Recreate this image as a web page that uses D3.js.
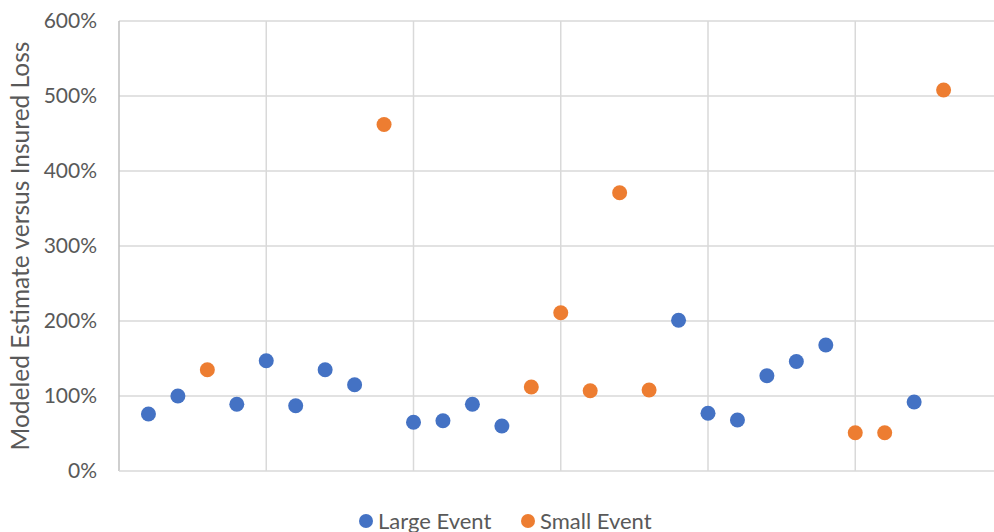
<!DOCTYPE html>
<html>
<head>
<meta charset="utf-8">
<script src="https://cdn.jsdelivr.net/npm/d3@7"></script>
<style>
  html, body { margin: 0; padding: 0; background: #fff; }
  svg { display: block; }
  text { font-family: Lato, "Open Sans", "Liberation Sans", sans-serif; fill: #595959; }
</style>
</head>
<body>
<svg id="chart" width="994" height="532"></svg>
<script>
// Event index along the x axis (1..28)
const eventIndex = [1,2,3,4,5,6,7,8,9,10,11,12,13,14,15,16,17,18,19,20,21,22,23,24,25,26,27,28];
// Modeled estimate divided by insured loss, per event
const ratio = [0.76,1.00,1.35,0.89,1.47,0.87,1.35,1.15,4.62,0.65,0.67,0.89,0.60,1.12,2.11,1.07,3.71,1.08,2.01,0.77,0.68,1.27,1.46,1.68,0.51,0.51,0.92,5.08];
// Event size class for each point
const eventSize = ["Large","Large","Small","Large","Large","Large","Large","Large","Small","Large","Large","Large","Large","Small","Small","Small","Small","Small","Large","Large","Large","Large","Large","Large","Small","Small","Large","Small"];
const seriesNames = ["Large", "Small"];
const seriesLabels = ["Large Event", "Small Event"];
const seriesColors = ["#4472c4", "#ed7d31"];
const yTicks = [0, 1, 2, 3, 4, 5, 6];
const xGridTicks = [5, 10, 15, 20, 25, 30];

const svg = d3.select("#chart");
const plotLeft = 119, plotRight = 1002.5, plotTop = 21, plotBottom = 471;
const fontStack = 'Lato, "Open Sans", "Liberation Sans", sans-serif';

const x = d3.scaleLinear().domain([0, 30]).range([plotLeft, plotRight]);
const y = d3.scaleLinear().domain([0, 6]).range([plotBottom, plotTop]);
const color = d3.scaleOrdinal().domain(seriesNames).range(seriesColors);

// horizontal gridlines
svg.append("g")
  .selectAll("line").data(yTicks.filter(d => d > 0)).join("line")
  .attr("x1", plotLeft).attr("x2", plotRight)
  .attr("y1", d => y(d)).attr("y2", d => y(d))
  .attr("stroke", "#d9d9d9").attr("stroke-width", 1.5);

// vertical gridlines
svg.append("g")
  .selectAll("line").data(xGridTicks).join("line")
  .attr("x1", d => x(d)).attr("x2", d => x(d))
  .attr("y1", plotTop).attr("y2", plotBottom)
  .attr("stroke", "#d9d9d9").attr("stroke-width", 1.5);

// axis lines
svg.append("line").attr("x1", plotLeft).attr("x2", plotLeft).attr("y1", plotTop).attr("y2", plotBottom)
  .attr("stroke", "#bfbfbf").attr("stroke-width", 1.5);
svg.append("line").attr("x1", plotLeft).attr("x2", plotRight).attr("y1", plotBottom).attr("y2", plotBottom)
  .attr("stroke", "#d9d9d9").attr("stroke-width", 1.5);

// y tick labels
const yAxis = d3.axisLeft(y).tickValues(yTicks).tickSize(0).tickPadding(22)
  .tickFormat(d3.format(".0%"));
const gy = svg.append("g").attr("transform", `translate(${plotLeft},0)`).call(yAxis);
gy.select(".domain").remove();
gy.selectAll("text").style("font-size", "21px").attr("fill", "#595959")
  .style("font-family", fontStack);

// y axis title
svg.append("text")
  .attr("transform", `translate(29,${(plotTop + plotBottom) / 2}) rotate(-90)`)
  .attr("text-anchor", "middle")
  .style("font-size", "24.5px")
  .text("Modeled Estimate versus Insured Loss");

// points
svg.append("g")
  .selectAll("circle").data(eventIndex).join("circle")
  .attr("cx", d => x(d))
  .attr("cy", (d, i) => y(ratio[i]))
  .attr("r", 7.5)
  .attr("fill", (d, i) => color(eventSize[i]));

// legend
const legend = svg.append("g").attr("transform", "translate(0,521)");
const legendX = [366, 528];
seriesNames.forEach((s, i) => {
  legend.append("circle").attr("cx", legendX[i]).attr("cy", 0).attr("r", 7).attr("fill", color(s));
  legend.append("text").attr("x", legendX[i] + 12).attr("y", 7.5)
    .style("font-size", "22px").text(seriesLabels[i]);
});
</script>
</body>
</html>
